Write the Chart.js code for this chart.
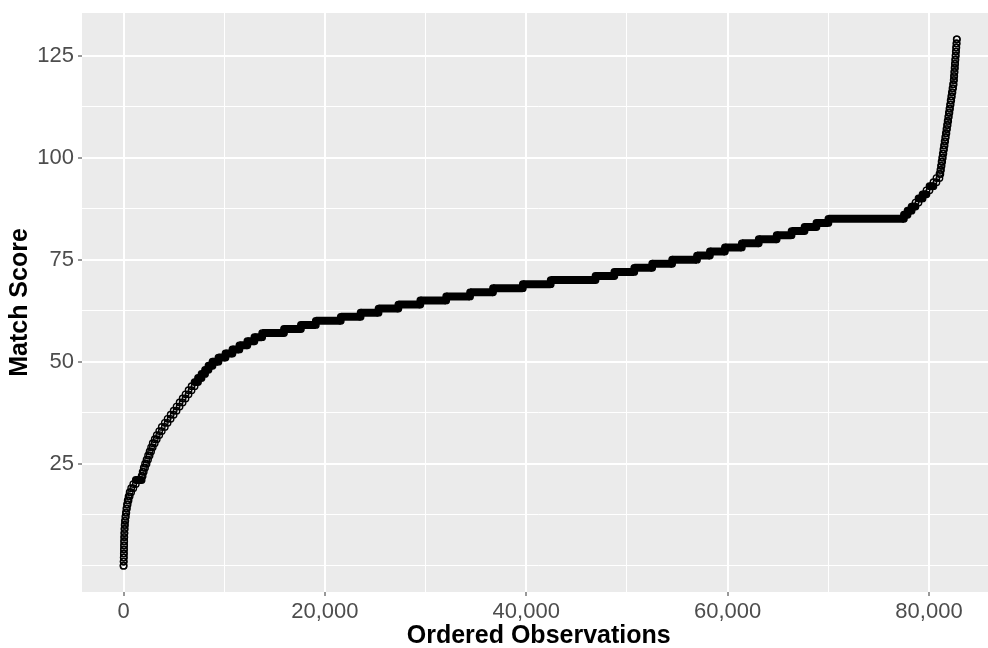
<!DOCTYPE html>
<html>
<head>
<meta charset="utf-8">
<script src="https://cdn.jsdelivr.net/npm/chart.js@4.4.1/dist/chart.umd.min.js"></script>
<style>
  html, body { margin: 0; padding: 0; background: #fff; overflow: hidden; }
  #wrap { width: 1000px; height: 648px; }
</style>
</head>
<body>
<div id="wrap"><canvas id="chart" width="1000" height="648"></canvas></div>
<script>
// each score level and the first ordered observation that has it
const scores = [
  0, 1, 2, 3, 4, 5, 6, 7, 8, 9,
  10, 11, 12, 13, 14, 15, 16, 17, 18, 19,
  20, 21, 22, 23, 24, 25, 26, 27, 28, 29,
  30, 31, 32, 33, 34, 35, 36, 37, 38, 39,
  40, 41, 42, 43, 44, 45, 46, 47, 48, 49,
  50, 51, 52, 53, 54, 55, 56, 57, 58, 59,
  60, 61, 62, 63, 64, 65, 66, 67, 68, 69,
  70, 71, 72, 73, 74, 75, 76, 77, 78, 79,
  80, 81, 82, 83, 84, 85, 86, 87, 88, 89,
  90, 91, 92, 93, 94, 95, 96, 97, 98, 99,
  100, 101, 102, 103, 104, 105, 106, 107, 108, 109,
  110, 111, 112, 113, 114, 115, 116, 117, 118, 119,
  120, 121, 122, 123, 124, 125, 126, 127, 128, 129
];
const firstObs = [
  0, 10, 20, 30, 40, 50, 60, 70, 80, 95,
  110, 140, 180, 230, 280, 340, 410, 500, 610, 760,
  970, 1220, 1800, 1900, 2010, 2140, 2290, 2440, 2590, 2740,
  2900, 3100, 3300, 3550, 3800, 4100, 4380, 4680, 4980, 5270,
  5570, 5870, 6160, 6460, 6760, 7060, 7400, 7750, 8100, 8440,
  8840, 9430, 10130, 10820, 11510, 12300, 13000, 13770, 15940, 17620,
  19100, 21580, 23550, 25330, 27300, 29480, 32050, 34420, 36700, 39660,
  42430, 46880, 48750, 50730, 52510, 54490, 56960, 58240, 59730, 61410,
  63090, 64870, 66350, 67640, 68820, 70010, 77510, 77870, 78270, 78660,
  78960, 79360, 79750, 80050, 80440, 80740, 81040, 81130, 81190, 81250,
  81310, 81370, 81430, 81490, 81550, 81610, 81670, 81730, 81790, 81850,
  81910, 81970, 82030, 82090, 82150, 82210, 82270, 82330, 82390, 82450,
  82480, 82510, 82540, 82570, 82600, 82630, 82660, 82690, 82720, 82750
];
const totalObs = 82770;

const xTicks = [0, 10000, 20000, 30000, 40000, 50000, 60000, 70000, 80000];
const xLabelled = [0, 20000, 40000, 60000, 80000];
const yTicks = [0, 12.5, 25, 37.5, 50, 62.5, 75, 87.5, 100, 112.5, 125];
const yLabelled = [25, 50, 75, 100, 125];

const RUN_SOLID = 300; // runs longer than this many obs draw as a solid band

function lastObsOf(i) {
  return Math.max((i + 1 < firstObs.length ? firstObs[i + 1] : totalObs) - 1, firstObs[i]);
}

// start and end point of every level
const pts = [];
const fill = [];
scores.forEach((s, i) => {
  const solid = lastObsOf(i) - firstObs[i] > RUN_SOLID;
  pts.push({ x: firstObs[i], y: s }, { x: lastObsOf(i), y: s });
  fill.push(solid ? '#000' : 'rgba(0,0,0,0)', solid ? '#000' : 'rgba(0,0,0,0)');
});

const panelBg = {
  id: 'panelBg',
  beforeDraw(chart) {
    const { ctx, chartArea: a } = chart;
    ctx.save();
    ctx.fillStyle = '#EBEBEB';
    ctx.fillRect(a.left, a.top, a.right - a.left, a.bottom - a.top);
    ctx.restore();
  },
  afterDraw(chart) {
    const { ctx, chartArea: a } = chart;
    ctx.save();
    ctx.fillStyle = '#000';
    ctx.font = 'bold 25px "Liberation Sans", Arial, sans-serif';
    ctx.textAlign = 'center';
    ctx.textBaseline = 'middle';
    ctx.fillText('Ordered Observations', (a.left + a.right) / 2, 636);
    ctx.translate(20, (a.top + a.bottom) / 2);
    ctx.rotate(-Math.PI / 2);
    ctx.fillText('Match Score', 0, 0);
    ctx.restore();
  }
};

const isMajorX = v => xLabelled.includes(v);
const isMajorY = v => yLabelled.includes(v);

new Chart(document.getElementById('chart'), {
  type: 'scatter',
  data: {
    datasets: [{
      data: pts,
      showLine: true,
      borderWidth: 8,
      borderColor: '#000',
      segment: {
        borderColor: c => {
          const i = c.p0DataIndex;
          if (i % 2 === 1) return 'rgba(0,0,0,0)';
          const lvl = i / 2;
          return lastObsOf(lvl) - firstObs[lvl] > RUN_SOLID ? '#000' : 'rgba(0,0,0,0)';
        }
      },
      pointRadius: 3.2,
      pointBorderWidth: 1.4,
      pointBorderColor: '#000',
      pointBackgroundColor: fill,
      pointHoverRadius: 3.2
    }]
  },
  options: {
    responsive: false,
    animation: false,
    events: [],
    layout: { padding: { top: 13, left: 0, right: 0, bottom: 0 } },
    plugins: { legend: { display: false }, tooltip: { enabled: false } },
    scales: {
      x: {
        type: 'linear',
        min: -4124,
        max: 86594,
        afterBuildTicks: s => { s.ticks = xTicks.map(v => ({ value: v })); },
        afterFit: s => { s.height = 56; s.paddingLeft = 0; s.paddingRight = 0; },
        border: { display: false },
        grid: {
          color: '#fff',
          lineWidth: c => (isMajorX(c.tick.value) ? 2 : 1),
          tickColor: c => (isMajorX(c.tick.value) ? '#333' : 'rgba(0,0,0,0)'),
          tickWidth: 1,
          tickLength: 4
        },
        ticks: {
          autoSkip: false,
          maxRotation: 0,
          padding: 3,
          color: '#4D4D4D',
          font: { family: '"Liberation Sans", Arial, sans-serif', size: 22 },
          callback: v => (isMajorX(v) ? v.toLocaleString('en-US') : '')
        }
      },
      y: {
        type: 'linear',
        min: -6.45,
        max: 135.45,
        afterBuildTicks: s => { s.ticks = yTicks.map(v => ({ value: v })); },
        afterFit: s => { s.width = 82; s.paddingTop = 0; s.paddingBottom = 0; },
        border: { display: false },
        grid: {
          color: '#fff',
          lineWidth: c => (isMajorY(c.tick.value) ? 2 : 1),
          tickColor: c => (isMajorY(c.tick.value) ? '#333' : 'rgba(0,0,0,0)'),
          tickWidth: 1,
          tickLength: 4
        },
        ticks: {
          autoSkip: false,
          padding: 4,
          color: '#4D4D4D',
          font: { family: '"Liberation Sans", Arial, sans-serif', size: 22 },
          callback: v => (isMajorY(v) ? String(v) : '')
        }
      }
    }
  },
  plugins: [panelBg]
});
</script>
</body>
</html>
